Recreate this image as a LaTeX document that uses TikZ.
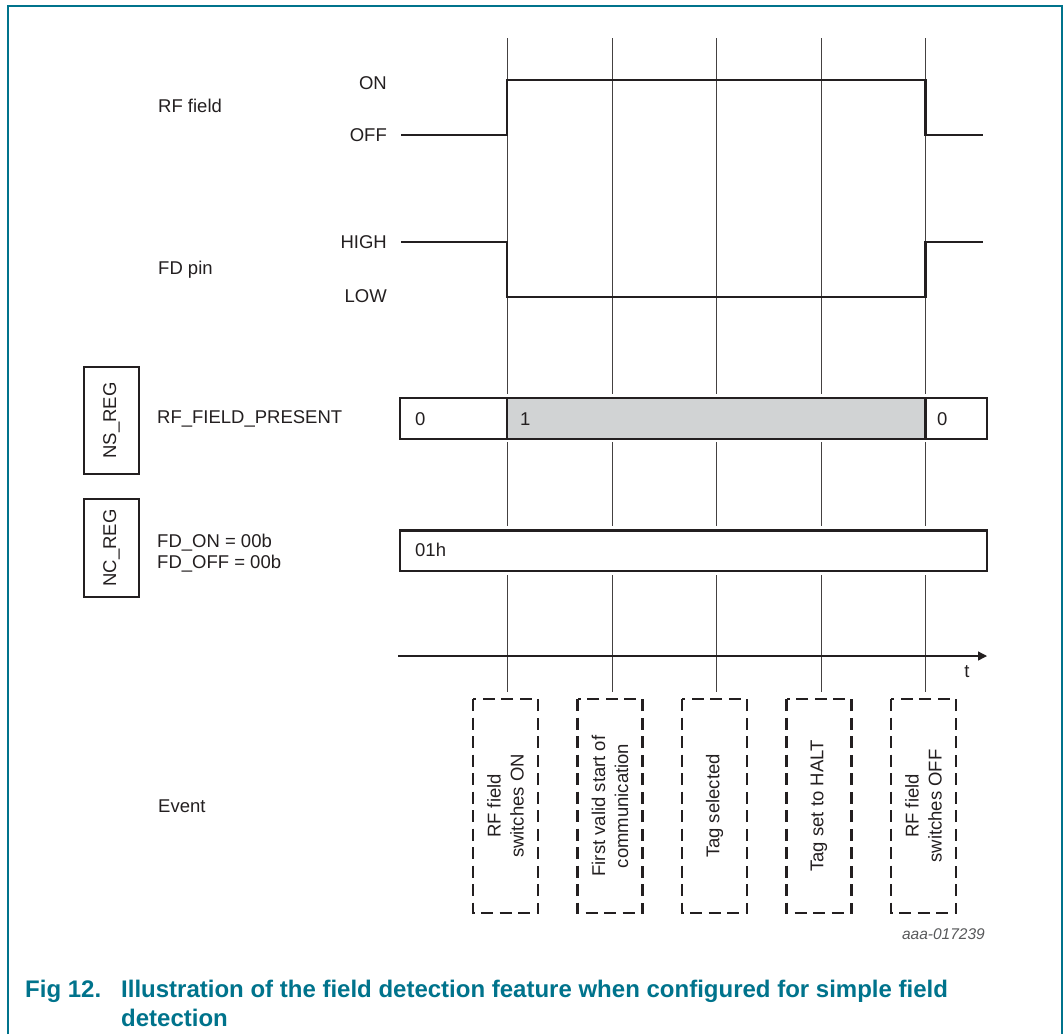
\documentclass[tikz,border=0pt]{standalone}
\usepackage{fontspec}
\setmainfont{Liberation Sans}
\usetikzlibrary{arrows.meta}

\definecolor{ink}{HTML}{231F20}
\definecolor{nxpteal}{HTML}{00738C}
\definecolor{regfill}{HTML}{D1D3D4}
\definecolor{idgray}{HTML}{58595B}

\tikzset{
  lbl/.style={font=\fontsize{18.5}{21}\selectfont, text=ink, inner sep=0pt},
  sig/.style={draw=ink, line width=2.6pt},
  tick/.style={draw=ink!85, line width=0.9pt},
  regline/.style={draw=ink, line width=2.6pt},
  regname/.style={draw=ink, line width=2pt, rotate=90, minimum height=55pt, inner sep=0pt,
    font=\fontsize{18.5}{21}\selectfont, text=ink},
  eventbox/.style={draw=ink, line width=2.8pt, dash pattern=on 12pt off 6.5pt, rotate=90,
    minimum width=214pt, minimum height=65pt, inner sep=0pt, align=center,
    font=\fontsize{18.5}{23}\selectfont, text=ink},
  caption/.style={text=nxpteal, inner sep=0pt, font=\bfseries\fontsize{24}{29}\selectfont}
}

\begin{document}
\begin{tikzpicture}[x=1pt,y=-1pt]
    \useasboundingbox (0,0) rectangle (1064,1034);

    % frame
    \draw[nxpteal, line width=1.8pt] (8,1034) -- (8,6) -- (1062,6) -- (1062,1034);

    % time marks
    \foreach \x in {507,612,716.5,821,925.5} {
      \draw[tick] (\x,38) -- (\x,394);
      \draw[tick] (\x,442) -- (\x,526);
      \draw[tick] (\x,575) -- (\x,692);
    }

    % signal labels
    \node[lbl, anchor=west] (rflbl) at (158,106) {RF field};
    \node[lbl, anchor=east] (onlbl) at (387,83) {ON};
    \node[lbl, anchor=east] (offlbl) at (387,135) {OFF};
    \node[lbl, anchor=west] (fdlbl) at (158,270) {FD pin};
    \node[lbl, anchor=east] (highlbl) at (387,242) {HIGH};
    \node[lbl, anchor=east] (lowlbl) at (387,296) {LOW};

    % waveforms
    \draw[sig] (401,135) -- (507,135) -- (507,80) -- (925.5,80) -- (925.5,135) -- (983,135);
    \draw[sig] (401,242) -- (507,242) -- (507,297) -- (925.5,297) -- (925.5,242) -- (983,242);

    % registers
    \node[regname, minimum width=107pt] (nsreg) at (111.5,420.5) {NS\_REG};
    \node[regname, minimum width=98pt] (ncreg) at (111.5,548) {NC\_REG};
    \node[lbl, anchor=west] (present) at (157,419) {RF\_FIELD\_PRESENT};
    \node[lbl, anchor=west, align=left] (fdcfg) at (157,553) {FD\_ON = 00b\\FD\_OFF = 00b};

    \draw[regline, fill=regfill] (507,398) rectangle (925.5,439);
    \draw[regline] (400,398) rectangle (987,439);
    \draw[regline] (925.5,398) -- (925.5,439);
    \node[lbl, anchor=west] (val0) at (415,419) {0};
    \node[lbl, anchor=west] (val1) at (520,419) {1};
    \node[lbl, anchor=west] (val2) at (937,419) {0};

    \draw[regline] (400,530.5) rectangle (987,571);
    \node[lbl, anchor=west] (val3) at (415,550) {01h};

    % time axis
    \coordinate (t0) at (398,656);
    \coordinate (tend) at (987,656);
    \draw[ink, line width=1.4pt, -{Triangle[length=9pt,width=9pt]}] (t0) -- (tend);
    \node[lbl] (tlbl) at (967,672) {t};

    % events
    \node[lbl, anchor=west] (eventlbl) at (158,806) {Event};
    \node[eventbox] (ev1) at (505.5,806) {RF field\\switches ON};
    \node[eventbox] (ev2) at (610,806) {First valid start of\\communication};
    \node[eventbox] (ev3) at (714.5,806) {Tag selected};
    \node[eventbox] (ev4) at (819,806) {Tag set to HALT};
    \node[eventbox] (ev5) at (923.5,806) {RF field\\switches OFF};

    \node[anchor=east, inner sep=0pt, text=idgray, font=\itshape\fontsize{15.5}{18}\selectfont] (figid) at (985,934) {aaa-017239};

    % caption
    \node[caption, anchor=base west] (fignum) at (25,997) {Fig 12.};
    \node[caption, anchor=base west] (figtext) at (121,997)
      {Illustration of the field detection feature when configured for simple field};
    \node[caption, anchor=base west] (figtext2) at (121,1026) {detection};
\end{tikzpicture}
\end{document}
